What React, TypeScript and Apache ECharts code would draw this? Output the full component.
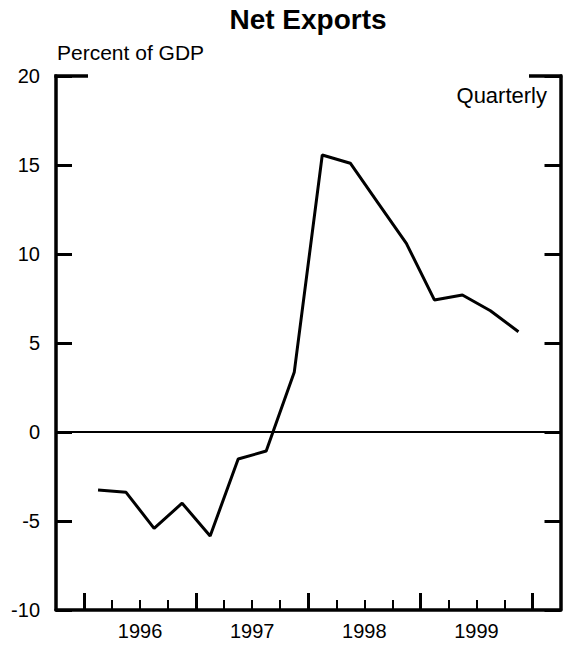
import React, { useEffect, useRef } from "react";
import * as echarts from "echarts";

const quarters = [
  "1996Q1", "1996Q2", "1996Q3", "1996Q4",
  "1997Q1", "1997Q2", "1997Q3", "1997Q4",
  "1998Q1", "1998Q2", "1998Q3", "1998Q4",
  "1999Q1", "1999Q2", "1999Q3", "1999Q4",
];
const netExports = [
  -3.26, -3.39, -5.41, -4.0,
  -5.84, -1.52, -1.07, 3.35,
  15.56, 15.1, 12.85, 10.6,
  7.42, 7.7, 6.81, 5.63,
];
const yearTicks = [1996, 1997, 1998, 1999, 2000];
const yearLabels = ["1996", "1997", "1998", "1999"];
const yTicks = [-10, -5, 0, 5, 10, 15, 20];

const FONT = "Arial, 'Liberation Sans', sans-serif";

function quarterToX(q: string): number {
  const y = parseInt(q.slice(0, 4), 10);
  const n = parseInt(q.slice(5), 10);
  return y + (n - 1) * 0.25 + 0.125;
}

export default function App() {
  const ref = useRef<HTMLDivElement>(null);
  useEffect(() => {
    if (!ref.current) return;
    const chart = echarts.init(ref.current, null, { renderer: "svg" });
    const xMin = 1995.75;
    const xMax = 2000.25;
    const minorTicks: number[] = [];
    for (let y = yearTicks[0]; y < yearTicks[yearTicks.length - 1]; y++) {
      minorTicks.push(y + 0.25, y + 0.5, y + 0.75);
    }
    const labelPos = yearLabels.map((s) => parseInt(s, 10) + 0.5);
    const gridLeft = 56;
    const gridRight = 2.5;
    const gridTop = 76;
    const gridBottom = 36;
    const W = 563;
    const rightX = W - gridRight;
    chart.setOption({
      animation: false,
      grid: { left: gridLeft, right: gridRight, top: gridTop, bottom: gridBottom, containLabel: false },
      xAxis: [
        {
          type: "value",
          min: xMin,
          max: xMax,
          position: "bottom",
          axisLine: { show: true, onZero: false, lineStyle: { color: "#000", width: 3.5 } },
          axisTick: {
            show: true,
            inside: true,
            length: 17,
            customValues: yearTicks,
            lineStyle: { color: "#000", width: 3 },
          },
          axisLabel: {
            show: true,
            customValues: labelPos,
            formatter: (v: number) => String(Math.floor(v)),
            fontSize: 20,
            fontFamily: FONT,
            color: "#000",
            margin: 11,
          },
          splitLine: { show: false },
        },
        {
          type: "value",
          min: xMin,
          max: xMax,
          position: "bottom",
          axisLine: { show: false, onZero: false },
          axisTick: {
            show: true,
            inside: true,
            length: 10,
            customValues: minorTicks,
            lineStyle: { color: "#000", width: 2 },
          },
          axisLabel: { show: false },
          splitLine: { show: false },
        },
      ],
      yAxis: [
        {
          type: "value",
          min: yTicks[0],
          max: yTicks[yTicks.length - 1],
          interval: 5,
          position: "left",
          axisLine: { show: true, onZero: false, lineStyle: { color: "#000", width: 3.5 } },
          axisTick: { show: true, inside: true, length: 16, lineStyle: { color: "#000", width: 3 } },
          axisLabel: { fontSize: 20, fontFamily: FONT, color: "#000", margin: 16 },
          splitLine: { show: false },
        },
        {
          type: "value",
          min: yTicks[0],
          max: yTicks[yTicks.length - 1],
          interval: 5,
          position: "right",
          axisLine: { show: true, onZero: false, lineStyle: { color: "#000", width: 3.5 } },
          axisTick: { show: true, inside: true, length: 16, lineStyle: { color: "#000", width: 3 } },
          axisLabel: { show: false },
          splitLine: { show: false },
        },
      ],
      graphic: [
        {
          type: "text",
          x: 308,
          y: 19,
          style: {
            text: "Net Exports",
            font: `bold 28px ${FONT}`,
            fill: "#000",
            textAlign: "center",
            textVerticalAlign: "middle",
          },
        },
        {
          type: "text",
          x: 57,
          y: 52,
          style: {
            text: "Percent of GDP",
            font: `21px ${FONT}`,
            fill: "#000",
            textAlign: "left",
            textVerticalAlign: "middle",
          },
        },
        {
          type: "text",
          x: 547,
          y: 95,
          style: {
            text: "Quarterly",
            font: `22px ${FONT}`,
            fill: "#000",
            textAlign: "right",
            textVerticalAlign: "middle",
          },
        },
        {
          type: "line",
          shape: { x1: gridLeft - 1.75, y1: gridTop, x2: 88, y2: gridTop },
          style: { stroke: "#000", lineWidth: 3.5 },
        },
        {
          type: "line",
          shape: { x1: 529, y1: gridTop, x2: rightX + 1.75, y2: gridTop },
          style: { stroke: "#000", lineWidth: 3.5 },
        },
      ],
      series: [
        {
          type: "line",
          xAxisIndex: 0,
          yAxisIndex: 0,
          data: quarters.map((q, i) => [quarterToX(q), netExports[i]]),
          showSymbol: false,
          symbol: "none",
          lineStyle: { color: "#000", width: 3 },
          markLine: {
            silent: true,
            symbol: ["none", "none"],
            label: { show: false },
            lineStyle: { color: "#000", width: 1.8, type: "solid" },
            data: [{ yAxis: 0 }],
          },
        },
      ],
    });
    return () => chart.dispose();
  }, []);
  return (
    <div
      ref={ref}
      style={{ position: "fixed", left: 0, top: 0, width: 563, height: 646, background: "#fff" }}
    />
  );
}
